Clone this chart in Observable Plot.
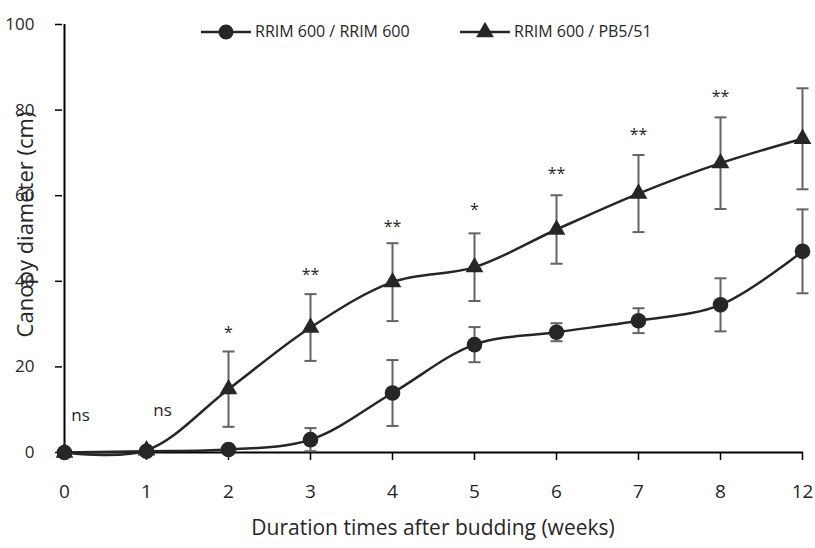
<!DOCTYPE html>
<html>
<head>
<meta charset="utf-8">
<script src="https://cdn.jsdelivr.net/npm/d3@7"></script>
<script src="https://cdn.jsdelivr.net/npm/@observablehq/plot@0.6"></script>
<style>
  html, body { margin: 0; padding: 0; background: #fff; }
  #wrap { position: relative; width: 815px; height: 548px; font-family: "Open Sans", sans-serif; }
  #legend { position: absolute; left: 0; top: 0; pointer-events: none; }
</style>
</head>
<body>
<div id="wrap"></div>
<script>
// ---- data ----
const weeks = ["0", "1", "2", "3", "4", "5", "6", "7", "8", "12"];
const seriesNames = ["RRIM 600 / RRIM 600", "RRIM 600 / PB5/51"];
const rrimMean = [0, 0.3, 0.7, 3.0, 13.9, 25.2, 28.1, 30.8, 34.5, 47.0];
const rrimErr  = [0, 0.2, 0.3, 2.7, 7.7, 4.1, 2.1, 2.9, 6.2, 9.8];
const pbMean   = [0, 0.5, 14.8, 29.2, 39.8, 43.3, 52.1, 60.5, 67.6, 73.3];
const pbErr    = [0, 0.3, 8.8, 7.8, 9.1, 7.9, 8.0, 9.0, 10.7, 11.8];
const sigLabels = ["ns", "ns", "*", "**", "**", "*", "**", "**", "**", ""];
const sigY      = [8.6, 9.8, 28.0, 41.4, 52.6, 56.6, 65.2, 74.3, 83.1, null];
const yTicks = [0, 20, 40, 60, 80, 100];
const xTitle = "Duration times after budding (weeks)";
const yTitle = "Canopy diameter (cm)";

const rows = [];
weeks.forEach((w, i) => rows.push({week: w, series: seriesNames[0], mean: rrimMean[i], err: rrimErr[i]}));
weeks.forEach((w, i) => rows.push({week: w, series: seriesNames[1], mean: pbMean[i], err: pbErr[i]}));
const rrimRows = rows.filter(d => d.series === seriesNames[0]);
const pbRows = rows.filter(d => d.series === seriesNames[1]);
const sig = weeks.map((w, i) => ({week: w, label: sigLabels[i], y: sigY[i]})).filter(d => d.label);
const sigNs = sig.filter(d => d.label === "ns");
const sigStar = sig.filter(d => d.label !== "ns");
const errRows = rows.filter(d => d.err > 0);

const ink = "#262626";
const errColor = "#636363";
// horizontal cap symbol for error bars
const capSymbol = {draw(context) { context.moveTo(-6, 0); context.lineTo(6, 0); }};

const chart = Plot.plot({
  width: 815,
  height: 548,
  marginLeft: 62,
  marginRight: 12,
  marginTop: 24,
  marginBottom: 96,
  style: {fontFamily: "'Open Sans', sans-serif", color: ink, background: "transparent", overflow: "visible"},
  x: {type: "point", domain: weeks, padding: 0, label: null},
  y: {domain: [0, 100], label: null},
  marks: [
    Plot.axisX({tickSize: 8, tickPadding: 24, fontSize: 19, label: null, stroke: "#000", strokeWidth: 1.5}),
    Plot.axisY({ticks: yTicks, tickSize: 7, tickPadding: 21, fontSize: 17, label: null, stroke: "#000", strokeWidth: 1.5}),
    Plot.ruleX([weeks[0]], {stroke: "#000", strokeWidth: 2}),
    Plot.ruleY([0], {stroke: "#000", strokeWidth: 2}),
    // error bars
    Plot.ruleX(errRows, {x: "week", y1: d => d.mean - d.err, y2: d => d.mean + d.err, stroke: errColor, strokeWidth: 2}),
    Plot.dot(errRows, {x: "week", y: d => d.mean + d.err, symbol: capSymbol, r: 6, fill: "none", stroke: errColor, strokeWidth: 2}),
    Plot.dot(errRows, {x: "week", y: d => Math.max(0, d.mean - d.err), symbol: capSymbol, r: 6, fill: "none", stroke: errColor, strokeWidth: 2}),
    // smoothed lines
    Plot.line(pbRows, {x: "week", y: "mean", stroke: ink, strokeWidth: 2.5, curve: "catmull-rom"}),
    Plot.line(rrimRows, {x: "week", y: "mean", stroke: ink, strokeWidth: 2.5, curve: "catmull-rom"}),
    // markers
    Plot.dot(pbRows, {x: "week", y: "mean", symbol: "triangle", r: 6.6, fill: ink, stroke: "none"}),
    Plot.dot(rrimRows, {x: "week", y: "mean", symbol: "circle", r: 7.8, fill: ink, stroke: "none"}),
    // significance labels
    Plot.text(sigNs, {x: "week", y: "y", text: "label", dx: 16, fontSize: 17, fill: ink}),
    Plot.text(sigStar, {x: "week", y: "y", text: "label", fontSize: 16, fill: ink}),
    // axis titles
    Plot.text([xTitle], {frameAnchor: "bottom", lineAnchor: "middle", dy: 76, fontSize: 21, fill: ink}),
    Plot.text([yTitle], {frameAnchor: "left", textAnchor: "middle", lineAnchor: "middle", dx: -37, dy: -14, rotate: -90, fontSize: 22, fill: ink})
  ]
});
const wrap = document.getElementById("wrap");
wrap.appendChild(chart);

// legend (drawn above the chart, inside the plotting area)
const ns = "http://www.w3.org/2000/svg";
const leg = document.createElementNS(ns, "svg");
leg.setAttribute("id", "legend");
leg.setAttribute("width", 815);
leg.setAttribute("height", 60);
const items = [
  {name: seriesNames[0], x0: 201, x1: 251, sym: "circle"},
  {name: seriesNames[1], x0: 460, x1: 510, sym: "triangle"}
];
items.forEach(it => {
  const cy = 32;
  const line = document.createElementNS(ns, "line");
  line.setAttribute("x1", it.x0); line.setAttribute("x2", it.x1);
  line.setAttribute("y1", cy); line.setAttribute("y2", cy);
  line.setAttribute("stroke", ink); line.setAttribute("stroke-width", 2.5);
  leg.appendChild(line);
  const cx = (it.x0 + it.x1) / 2;
  const p = document.createElementNS(ns, "path");
  const sym = it.sym === "circle" ? d3.symbol(d3.symbolCircle, Math.PI * 7.5 * 7.5) : d3.symbol(d3.symbolTriangle, Math.PI * 6.6 * 6.6);
  p.setAttribute("d", sym());
  p.setAttribute("transform", `translate(${cx},${cy})`);
  p.setAttribute("fill", ink);
  leg.appendChild(p);
  const t = document.createElementNS(ns, "text");
  t.setAttribute("x", it.x1 + 4);
  t.setAttribute("y", cy);
  t.setAttribute("dy", "0.32em");
  t.setAttribute("font-size", 16);
  t.setAttribute("font-family", "'Open Sans', sans-serif");
  t.setAttribute("fill", ink);
  t.textContent = it.name;
  leg.appendChild(t);
});
wrap.appendChild(leg);
</script>
</body>
</html>
